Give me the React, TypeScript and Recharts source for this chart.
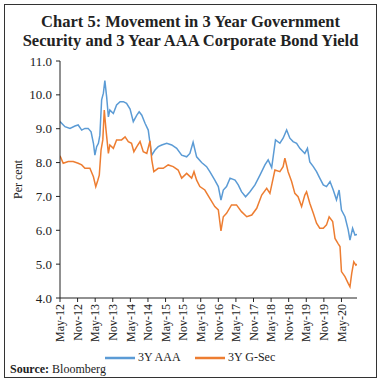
import { LineChart, Line, XAxis, YAxis } from "recharts";

const tickLabels = [
  "May-12", "Nov-12", "May-13", "Nov-13", "May-14", "Nov-14", "May-15", "Nov-15",
  "May-16", "Nov-16", "May-17", "Nov-17", "May-18", "Nov-18", "May-19", "Nov-19", "May-20",
];

// months since May-12
const aaaMonths = [
  0, 1.7, 3.4, 5.1, 6.2, 7.4, 8.5, 9.6, 10.6, 11.4, 11.9, 12.5, 13.1, 13.6, 14.2, 14.8, 15.3,
  15.9, 16.5, 17.0, 18.2, 19.3, 20.5, 21.6, 22.7, 23.9, 25.0, 26.2, 27.0, 27.9, 29.0, 30.1,
  30.7, 31.3, 32.4, 33.5, 34.7, 36.4, 38.1, 39.8, 41.5, 43.2, 44.3, 45.4, 46.6, 48.3, 50.0,
  51.1, 52.8, 54.0, 54.9, 55.7, 56.8, 58.0, 59.7, 60.8, 61.9, 63.3, 64.8, 66.5, 68.2, 69.9,
  71.0, 72.2, 73.5, 75.0, 76.1, 77.3, 78.4, 79.5, 80.7, 81.8, 83.5, 84.4, 85.2, 86.4, 87.5,
  88.6, 89.8, 90.9, 92.1, 93.2, 94.3, 95.2, 96.0, 97.2, 98.3, 98.9, 99.8, 100.6, 101.3,
];
const aaaValues = [
  9.21, 9.06, 9.01, 9.08, 9.11, 8.96, 9.01, 9.01, 8.91, 8.57, 8.22, 8.47, 8.57, 8.81, 9.85, 10.05, 10.42,
  9.95, 9.35, 9.55, 9.45, 9.7, 9.8, 9.8, 9.75, 9.58, 9.21, 9.4, 9.5, 9.4, 9.16, 8.96,
  8.57, 8.22, 8.37, 8.47, 8.52, 8.57, 8.52, 8.42, 8.22, 8.17, 8.27, 8.6, 8.17, 8.0, 7.88,
  7.73, 7.48, 7.29, 6.89, 7.19, 7.29, 7.54, 7.48, 7.34, 7.14, 6.99, 7.14, 7.34, 7.63, 7.93,
  8.08, 7.85, 8.67, 8.57, 8.72, 8.96, 8.72, 8.62, 8.57, 8.42, 8.27, 8.42, 8.02, 7.88, 7.73,
  7.54, 7.34, 7.29, 7.44, 7.19, 6.9, 7.19, 6.6, 6.4, 6.01, 5.71, 6.06, 5.86, 5.88,
];

const gsecMonths = [
  0, 1.1, 2.8, 4.5, 6.2, 7.4, 8.5, 10.2, 11.4, 12.2, 12.9, 13.4, 14.0, 14.6, 15.1, 15.7, 16.5,
  17.0, 18.2, 19.3, 21.0, 22.2, 23.3, 24.4, 25.2, 26.2, 27.3, 28.4, 29.6, 30.7, 31.3, 32.0,
  33.5, 35.2, 36.9, 38.6, 40.3, 41.5, 43.2, 44.9, 45.7, 46.6, 47.7, 49.4, 51.1, 52.8, 54.0,
  54.9, 55.7, 56.8, 58.5, 60.2, 61.9, 63.7, 65.4, 67.1, 68.8, 70.5, 71.6, 73.3, 75.0, 76.1,
  76.7, 77.8, 79.0, 80.1, 81.2, 82.4, 83.5, 84.1, 85.2, 86.4, 87.5, 88.6, 89.8, 90.9, 91.8,
  93.0, 93.8, 94.9, 95.5, 96.0, 97.2, 98.3, 98.9, 99.5, 100.2, 100.9, 101.3,
];
const gsecValues = [
  8.2, 7.98, 8.03, 8.03, 7.98, 7.93, 7.83, 7.83, 7.58, 7.29, 7.48, 7.63, 8.37, 8.67, 9.55, 8.96, 8.27,
  8.52, 8.42, 8.67, 8.67, 8.76, 8.62, 8.57, 8.32, 8.47, 8.62, 8.32, 8.27, 8.64, 8.08, 7.73,
  7.83, 7.83, 7.93, 7.88, 7.78, 7.54, 7.68, 7.54, 7.73, 7.48, 7.29, 7.19, 6.94, 6.7, 6.6,
  5.98, 6.4, 6.5, 6.75, 6.75, 6.55, 6.4, 6.45, 6.65, 7.04, 7.24, 7.09, 7.78, 7.73, 7.88,
  8.13, 7.73, 7.44, 7.09, 6.99, 6.7, 7.04, 7.14, 6.8, 6.5, 6.21, 6.06, 6.06, 6.16, 6.4,
  6.26, 5.76, 5.6, 5.52, 4.78, 4.63, 4.43, 4.33, 4.73, 5.07, 4.97, 5.0,
];

const yTicks = [4, 5, 6, 7, 8, 9, 10, 11];

const aaaData = aaaMonths.map((m, i) => ({ m, v: aaaValues[i] }));
const gsecData = gsecMonths.map((m, i) => ({ m, v: gsecValues[i] }));
const xTicks = tickLabels.map((_, i) => i * 6);

const serif = "'Liberation Serif', 'Times New Roman', serif";

const XTick = ({ x, y, payload }: any) => (
  <g transform={`translate(${x},${y})`}>
    <text
      x={0}
      y={0}
      dy="0.35em"
      transform="rotate(-90)"
      textAnchor="end"
      fontSize={12}
      fontFamily={serif}
      fill="#222"
    >
      {tickLabels[Math.round(payload.value / 6)]}
    </text>
  </g>
);

export default function App() {
  return (
    <div
      style={{
        position: "fixed",
        left: 0,
        top: 0,
        width: 381,
        height: 383,
        background: "#fff",
        fontFamily: serif,
      }}
    >
      <div
        style={{
          position: "absolute",
          left: 4,
          top: 4,
          width: 371,
          height: 372,
          border: "1.5px solid #333",
        }}
      />
      <div
        style={{
          position: "absolute",
          left: 0,
          top: 12,
          width: 381,
          textAlign: "center",
          fontWeight: "bold",
          fontSize: 16.5,
          lineHeight: "19px",
          color: "#222",
        }}
      >
        <div>Chart 5: Movement in 3 Year Government</div>
        <div>Security and 3 Year AAA Corporate Bond Yield</div>
      </div>
      <div style={{ position: "absolute", left: 0, top: 0 }}>
        <LineChart width={381} height={383} margin={{ top: 61, right: 24, left: 0, bottom: 35 }}>
          <XAxis
            type="number"
            dataKey="m"
            domain={[0, 101.3]}
            ticks={xTicks}
            interval={0}
            allowDataOverflow
            height={50}
            stroke="#222"
            tickSize={4}
            tickMargin={2}
            tick={<XTick />}
          />
          <YAxis
            type="number"
            domain={[4, 11]}
            ticks={yTicks}
            width={60}
            stroke="#222"
            tickSize={4}
            tickMargin={4}
            tickFormatter={(v: number) => v.toFixed(1)}
            tick={{ fontSize: 13, fontFamily: serif, fill: "#222" }}
            label={{
              value: "Per cent",
              angle: -90,
              position: "insideLeft",
              offset: 18,
              style: { fontSize: 12, fontFamily: serif, fill: "#222", textAnchor: "middle" },
            }}
          />
          <Line
            data={aaaData}
            dataKey="v"
            type="linear"
            stroke="#5B9BD5"
            strokeWidth={1.5}
            dot={false}
            isAnimationActive={false}
          />
          <Line
            data={gsecData}
            dataKey="v"
            type="linear"
            stroke="#ED7D31"
            strokeWidth={1.5}
            dot={false}
            isAnimationActive={false}
          />
        </LineChart>
      </div>
      <div
        style={{
          position: "absolute",
          top: 350,
          left: 0,
          width: 381,
          fontSize: 12,
          color: "#222",
        }}
      >
        <span style={{ position: "absolute", left: 105, top: 0, display: "flex", alignItems: "center" }}>
          <svg width={30} height={14}>
            <line x1={0} y1={7} x2={30} y2={7} stroke="#5B9BD5" strokeWidth={2.5} />
          </svg>
          <span style={{ marginLeft: 3 }}>3Y AAA</span>
        </span>
        <span style={{ position: "absolute", left: 195, top: 0, display: "flex", alignItems: "center" }}>
          <svg width={30} height={14}>
            <line x1={0} y1={7} x2={30} y2={7} stroke="#ED7D31" strokeWidth={2.5} />
          </svg>
          <span style={{ marginLeft: 3 }}>3Y G-Sec</span>
        </span>
      </div>
      <div style={{ position: "absolute", left: 10, top: 362, fontSize: 12, color: "#222" }}>
        <b>Source:</b> Bloomberg
      </div>
    </div>
  );
}
